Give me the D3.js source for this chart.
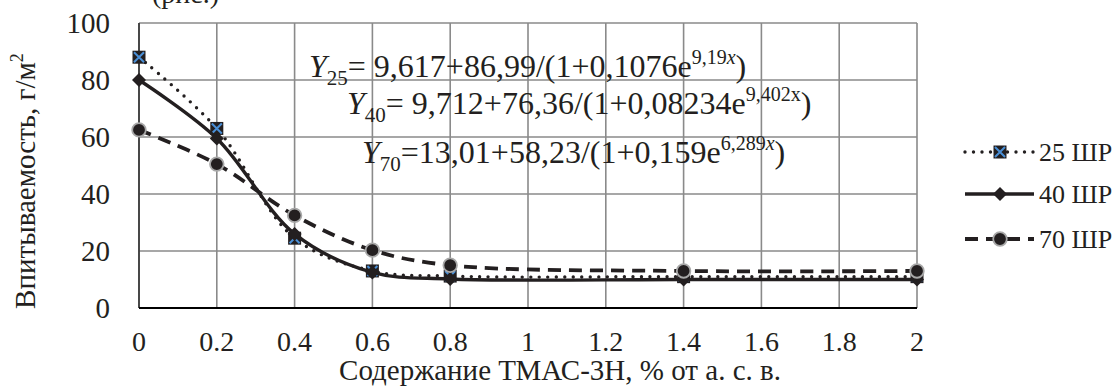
<!DOCTYPE html>
<html>
<head>
<meta charset="utf-8">
<script src="https://cdn.jsdelivr.net/npm/d3@7"></script>
<style>
  body { margin: 0; background: #fff; }
  svg text { font-family: "Times New Roman", "Liberation Serif", Tinos, "DejaVu Serif", serif; }
</style>
</head>
<body>
<div id="chart"></div>
<script>
// x values of measured points (% ТМАС-3Н)
const xValues = [0, 0.2, 0.4, 0.6, 0.8, 1.4, 2];
const xTicks = [0, 0.2, 0.4, 0.6, 0.8, 1, 1.2, 1.4, 1.6, 1.8, 2];
const yTicks = [0, 20, 40, 60, 80, 100];

const seriesNames = ['25 ШР', '40 ШР', '70 ШР'];
const values25 = [88, 63, 24.5, 13, 11.2, 11, 11];
const values40 = [80, 59.5, 26, 12.5, 10.2, 10, 10];
const values70 = [62.5, 50.5, 32.5, 20.3, 15, 13, 13];

const equations = [
  { sub: '25', body: '= 9,617+86,99/(1+0,1076e', exp: '9,19', x: 'x', italicX: true },
  { sub: '40', body: '= 9,712+76,36/(1+0,08234e', exp: '9,402', x: 'x', italicX: false },
  { sub: '70', body: '=13,01+58,23/(1+0,159e', exp: '6,289', x: 'x', italicX: true }
];

const width = 1117, height = 387;
const margin = { top: 23, right: 200, bottom: 79, left: 139 };
const innerW = 917 - margin.left;
const innerH = 308 - margin.top;
const ink = '#231f20';

const svg = d3.select('#chart').append('svg')
  .attr('width', width)
  .attr('height', height);

const g = svg.append('g')
  .attr('transform', `translate(${margin.left},${margin.top})`);

const x = d3.scaleLinear().domain([0, 2]).range([0, innerW]);
const y = d3.scaleLinear().domain([0, 100]).range([innerH, 0]);

// grid
g.append('g').selectAll('line')
  .data(xTicks)
  .join('line')
  .attr('x1', d => x(d)).attr('x2', d => x(d))
  .attr('y1', 0).attr('y2', innerH)
  .attr('stroke', '#8a8a8a')
  .attr('stroke-width', 1.6);

g.append('g').selectAll('line')
  .data(yTicks)
  .join('line')
  .attr('x1', 0).attr('x2', innerW)
  .attr('y1', d => y(d)).attr('y2', d => y(d))
  .attr('stroke', '#8a8a8a')
  .attr('stroke-width', 1.6);

// axis lines
g.append('line')
  .attr('x1', 0).attr('x2', 0).attr('y1', 0).attr('y2', innerH)
  .attr('stroke', '#333').attr('stroke-width', 1.6);
g.append('line')
  .attr('x1', 0).attr('x2', innerW).attr('y1', innerH).attr('y2', innerH)
  .attr('stroke', '#000').attr('stroke-width', 1.8);

// tick labels
svg.append('g').selectAll('text')
  .data(yTicks)
  .join('text')
  .attr('x', 110)
  .attr('y', d => margin.top + y(d) + 10)
  .attr('text-anchor', 'end')
  .attr('font-size', 29)
  .attr('fill', ink)
  .text(d => d);

svg.append('g').selectAll('text')
  .data(xTicks)
  .join('text')
  .attr('x', d => margin.left + x(d))
  .attr('y', 351)
  .attr('text-anchor', 'middle')
  .attr('font-size', 28)
  .attr('fill', ink)
  .text(d => d);

// axis titles
svg.append('text')
  .attr('x', 560)
  .attr('y', 380)
  .attr('text-anchor', 'middle')
  .attr('font-size', 29)
  .attr('fill', ink)
  .text('Содержание ТМАС-3Н, % от а. с. в.');

const yTitle = svg.append('text')
  .attr('transform', 'translate(35,181) rotate(-90)')
  .attr('text-anchor', 'middle')
  .attr('font-size', 29)
  .attr('fill', ink);
yTitle.append('tspan').text('Впитываемость, г/м');
yTitle.append('tspan').attr('font-size', 18).attr('dy', -12).text('2');

// caption clipped at the very top, as in the source
svg.append('text')
  .attr('x', 152)
  .attr('y', 3)
  .attr('font-size', 28)
  .attr('fill', ink)
  .text('(рис.)');

// series
const line = d3.line()
  .x(d => x(d[0]))
  .y(d => y(d[1]))
  .curve(d3.curveCatmullRom.alpha(0.5));

const series = [
  { name: seriesNames[0], values: values25, dash: '0 8.5', width: 3.4, cap: 'round', marker: 'square' },
  { name: seriesNames[1], values: values40, dash: null, width: 3.4, cap: 'butt', marker: 'diamond' },
  { name: seriesNames[2], values: values70, dash: '13 8', width: 3.8, cap: 'butt', marker: 'circle' }
];

function drawMarker(sel, type) {
  if (type === 'square') {
    sel.append('rect')
      .attr('x', -6.5).attr('y', -6.5).attr('width', 13).attr('height', 13)
      .attr('fill', ink);
    sel.append('path')
      .attr('d', 'M-5,-5L5,5M-5,5L5,-5')
      .attr('stroke', '#4a8fd6').attr('stroke-width', 2);
  } else if (type === 'diamond') {
    sel.append('path')
      .attr('d', 'M0,-7L7,0L0,7L-7,0Z')
      .attr('fill', ink);
  } else {
    sel.append('circle')
      .attr('r', 6.8)
      .attr('fill', ink)
      .attr('stroke', '#a8a8a8')
      .attr('stroke-width', 1.8);
  }
}

series.forEach(s => {
  const pts = xValues.map((xv, i) => [xv, s.values[i]]);
  g.append('path')
    .datum(pts)
    .attr('fill', 'none')
    .attr('stroke', ink)
    .attr('stroke-width', s.width)
    .attr('stroke-linecap', s.cap)
    .attr('stroke-dasharray', s.dash)
    .attr('d', line);

  g.append('g').selectAll('g')
    .data(pts)
    .join('g')
    .attr('transform', d => `translate(${x(d[0])},${y(d[1])})`)
    .each(function () { drawMarker(d3.select(this), s.marker); });
});

// equations
const eqPos = [[309, 77], [347, 114], [362, 163]];
equations.forEach((e, i) => {
  const t = svg.append('text')
    .attr('x', eqPos[i][0])
    .attr('y', eqPos[i][1])
    .attr('font-size', 32)
    .attr('fill', ink);
  t.append('tspan').attr('font-style', 'italic').text('Y');
  t.append('tspan').attr('font-size', 21).attr('dy', 8).text(e.sub);
  t.append('tspan').attr('dy', -8).text(e.body);
  t.append('tspan').attr('font-size', 20).attr('dy', -13).text(e.exp);
  t.append('tspan').attr('font-size', 20)
    .attr('font-style', e.italicX ? 'italic' : 'normal').text(e.x);
  t.append('tspan').attr('dy', 13).text(')');
});

// legend
const legendY = [152, 194, 239];
series.forEach((s, i) => {
  const lg = svg.append('g').attr('transform', `translate(0,${legendY[i]})`);
  lg.append('line')
    .attr('x1', 965).attr('x2', 1034)
    .attr('stroke', ink)
    .attr('stroke-width', s.width)
    .attr('stroke-linecap', s.cap)
    .attr('stroke-dasharray', s.dash);
  drawMarker(lg.append('g').attr('transform', 'translate(1000,0)'), s.marker);
  lg.append('text')
    .attr('x', 1039)
    .attr('y', 9)
    .attr('font-size', 26)
    .attr('fill', ink)
    .text(s.name);
});
</script>
</body>
</html>
